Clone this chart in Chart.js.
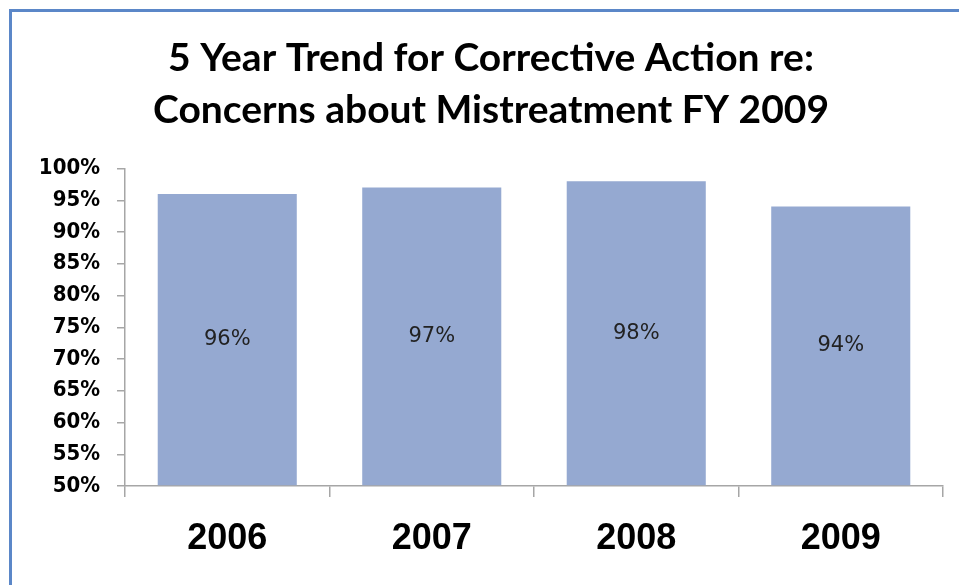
<!DOCTYPE html>
<html>
<head>
<meta charset="utf-8">
<title>Corrective Action Trend</title>
<script src="https://cdn.jsdelivr.net/npm/chart.js@4.4.1/dist/chart.umd.min.js"></script>
<style>
    html, body { margin: 0; padding: 0; background: #fff; overflow: hidden; }
    body { width: 959px; height: 585px; position: relative; }
    #box {
        position: absolute;
        left: 9px;
        top: 9px;
        width: 962px;
        height: 600px;
        border: 3px solid #5B87C8;
        background: #fff;
    }
</style>
</head>
<body>
<div id="box"><canvas id="trend-chart" width="962" height="600"></canvas></div>
<script>
    "use strict";

    var years = ["2006", "2007", "2008", "2009"];
    var percentCorrected = [96, 97, 98, 94];
    var titleLines = ["5 Year Trend for Corrective Action re:", "Concerns about Mistreatment FY 2009"];
    var yMin = 50;
    var yMax = 100;
    var yStep = 5;

    // value written in the middle of each bar
    var barValueLabels = {
        id: "barValueLabels",
        afterDatasetsDraw: function (chart) {
            var ctx = chart.ctx;
            var meta = chart.getDatasetMeta(0);
            ctx.save();
            ctx.font = "21px 'DejaVu Sans'";
            ctx.fillStyle = "#222";
            ctx.textAlign = "center";
            ctx.textBaseline = "middle";
            meta.data.forEach(function (bar, i) {
                var mid = (bar.y + bar.base) / 2;
                ctx.fillText(percentCorrected[i] + "%", bar.x, mid);
            });
            ctx.restore();
        },
    };

    var ctx = document.getElementById("trend-chart").getContext("2d");
    var trendChart = new Chart(ctx, {
        type: "bar",
        data: {
            labels: years,
            datasets: [
                {
                    data: percentCorrected,
                    base: yMin,
                    backgroundColor: "#95A9D1",
                    borderWidth: 0,
                    categoryPercentage: 1,
                    barPercentage: 0.68,
                },
            ],
        },
        options: {
            responsive: false,
            animation: false,
            layout: {
                // left padding keeps the title centred on the whole box
                padding: { top: 20, left: 27, right: 31, bottom: 0 },
            },
            plugins: {
                legend: { display: false },
                tooltip: { enabled: false },
                title: {
                    display: true,
                    text: titleLines,
                    color: "#000",
                    font: { family: "Lato", size: 39, weight: "bold", lineHeight: 1.34 },
                    padding: { top: 0, bottom: 32 },
                },
            },
            scales: {
                x: {
                    grid: {
                        display: true,
                        drawOnChartArea: false,
                        drawTicks: true,
                        tickLength: 11,
                        color: "#A6A6A6",
                        lineWidth: 1.5,
                    },
                    border: { color: "#A6A6A6", width: 1.5 },
                    ticks: {
                        color: "#000",
                        padding: 20,
                        font: { family: "Liberation Sans", size: 36, weight: "bold" },
                    },
                    afterFit: function (scale) {
                        scale.height = 126;
                    },
                },
                y: {
                    min: yMin,
                    max: yMax,
                    grid: {
                        display: true,
                        drawOnChartArea: false,
                        drawTicks: true,
                        tickLength: 8,
                        color: "#A6A6A6",
                        lineWidth: 1.5,
                    },
                    border: { color: "#A6A6A6", width: 1.5 },
                    ticks: {
                        stepSize: yStep,
                        color: "#000",
                        padding: 17,
                        font: { family: "DejaVu Sans Condensed", size: 22, weight: "bold" },
                        callback: function (value) {
                            return value + "%";
                        },
                    },
                    afterFit: function (scale) {
                        scale.width = 86;
                    },
                },
            },
        },
        plugins: [barValueLabels],
    });
</script>
</body>
</html>
